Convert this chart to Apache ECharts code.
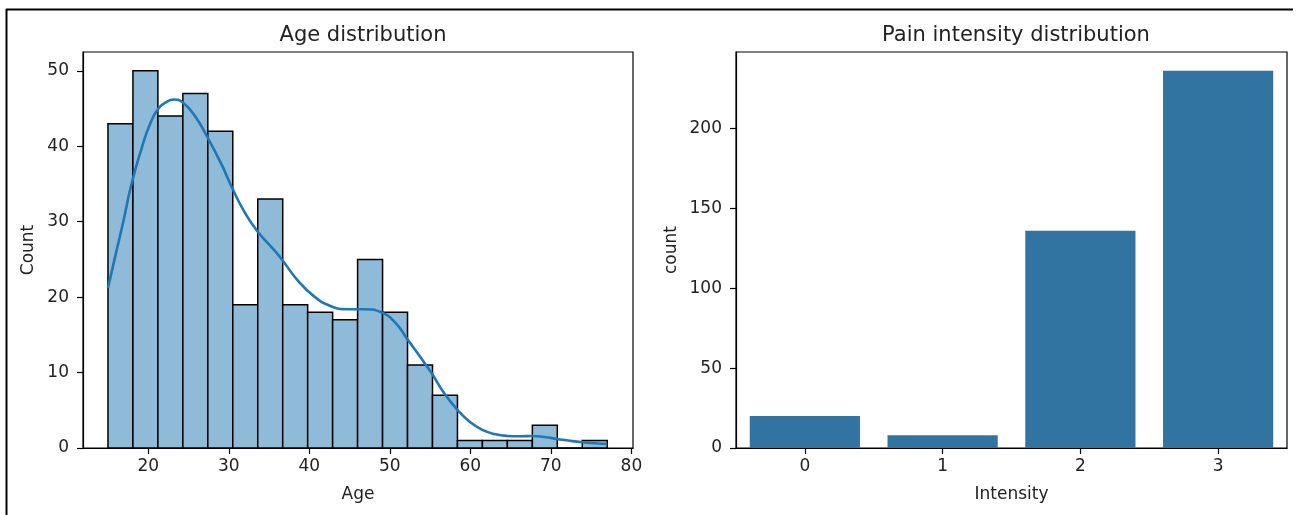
<!DOCTYPE html>
<html>
<head>
<meta charset="utf-8">
<script src="https://cdn.jsdelivr.net/npm/echarts@6/dist/echarts.min.js"></script>
<style>
html,body{margin:0;padding:0;background:#fff;}
#chart{width:1297px;height:515px;}
</style>
</head>
<body>
<div id="chart"></div>
<script>
// ---- data ----
const binEdges = [15, 18.1, 21.2, 24.3, 27.4, 30.5, 33.6, 36.7, 39.8, 42.9, 46, 49.1, 52.2, 55.3, 58.4, 61.5, 64.6, 67.7, 70.8, 73.9, 77];
const binCounts = [43, 50, 44, 47, 42, 19, 33, 19, 18, 17, 25, 18, 11, 7, 1, 1, 1, 3, 0, 1];
const kdeAge = [15, 15.9, 16.9, 17.9, 19.2, 20.2, 21.2, 22.3, 23.2, 24.3, 25.8, 27.4, 29.1, 30.5, 32.0, 33.5, 35.5, 36.6, 38.5, 40.6, 42.7, 44.7, 46.8, 48.9, 50.7, 52.2, 53.7, 55.2, 56.8, 58.4, 60.0, 61.5, 63.0, 64.6, 66.1, 67.6, 69.2, 70.8, 72.4, 73.9, 75.5, 77.0];
const kdeCount = [21.2, 25.4, 30.0, 34.9, 39.8, 42.9, 44.9, 45.9, 46.2, 45.8, 44.0, 41.1, 37.6, 34.3, 31.2, 28.8, 26.4, 25.0, 22.3, 20.1, 18.8, 18.4, 18.4, 18.0, 16.6, 14.4, 12.2, 9.9, 7.2, 5.05, 3.4, 2.4, 1.85, 1.6, 1.55, 1.6, 1.45, 1.2, 0.95, 0.76, 0.62, 0.53];
const ageTicks = [20, 30, 40, 50, 60, 70, 80];
const countTicks = [0, 10, 20, 30, 40, 50];
const painCategories = ['0', '1', '2', '3'];
const painCounts = [20, 8, 136, 236];
const painTicks = [0, 50, 100, 150, 200];

const FONT = 'DejaVu Sans';
const histData = binCounts.map((c, i) => [binEdges[i], binEdges[i + 1], c]);
const kdeData = kdeAge.map((a, i) => [a, kdeCount[i]]);

const axisLineStyle = { show: true, lineStyle: { color: '#000', width: 1.2 } };
const tickStyle = { show: true, length: 6, inside: false, lineStyle: { color: '#000', width: 1.2 } };
const labelBase = { color: '#222', fontFamily: FONT, fontSize: 17 };
const nameStyle = { color: '#222', fontFamily: FONT, fontSize: 17 };

const chart = echarts.init(document.getElementById('chart'), null, { renderer: 'canvas' });
const option = {
  animation: false,
  backgroundColor: '#fff',
  title: [
    { text: 'Age distribution', left: 358, top: 20, textAlign: 'center',
      textStyle: { fontFamily: FONT, fontSize: 21, fontWeight: 'normal', color: '#222' } },
    { text: 'Pain intensity distribution', left: 1011, top: 20, textAlign: 'center',
      textStyle: { fontFamily: FONT, fontSize: 21, fontWeight: 'normal', color: '#222' } }
  ],
  grid: [
    { left: 83, right: 664, top: 52, bottom: 67, show: true, borderColor: '#000', borderWidth: 1.2, outerBoundsMode: 'none', containLabel: false },
    { left: 736, right: 10, top: 52, bottom: 67, show: true, borderColor: '#000', borderWidth: 1.2, outerBoundsMode: 'none', containLabel: false }
  ],
  xAxis: [
    { type: 'value', gridIndex: 0, min: 11.9, max: 80.2,
      name: 'Age', nameLocation: 'middle', nameGap: 38, nameTextStyle: nameStyle,
      axisLine: axisLineStyle, axisTick: Object.assign({}, tickStyle, { customValues: ageTicks }),
      axisLabel: Object.assign({}, labelBase, { customValues: ageTicks, margin: 10 }),
      splitLine: { show: false } },
    { type: 'category', gridIndex: 1, data: painCategories,
      name: 'Intensity', nameLocation: 'middle', nameGap: 38, nameTextStyle: nameStyle,
      axisLine: axisLineStyle, axisTick: Object.assign({}, tickStyle, { alignWithLabel: true }),
      axisLabel: Object.assign({}, labelBase, { margin: 10 }),
      splitLine: { show: false } }
  ],
  yAxis: [
    { type: 'value', gridIndex: 0, min: 0, max: 52.5,
      name: 'Count', nameLocation: 'middle', nameGap: 46, nameRotate: 90, nameTextStyle: nameStyle,
      axisLine: axisLineStyle, axisTick: Object.assign({}, tickStyle, { customValues: countTicks }),
      axisLabel: Object.assign({}, labelBase, { customValues: countTicks, margin: 14 }),
      splitLine: { show: false } },
    { type: 'value', gridIndex: 1, min: 0, max: 247.8,
      name: 'count', nameLocation: 'middle', nameGap: 56, nameRotate: 90, nameTextStyle: nameStyle,
      axisLine: axisLineStyle, axisTick: Object.assign({}, tickStyle, { customValues: painTicks }),
      axisLabel: Object.assign({}, labelBase, { customValues: painTicks, margin: 14 }),
      splitLine: { show: false } }
  ],
  series: [
    { type: 'custom', xAxisIndex: 0, yAxisIndex: 0, z: 2, data: histData,
      encode: { x: [0, 1], y: 2 },
      renderItem: function (params, api) {
        const p0 = api.coord([api.value(0), api.value(2)]);
        const p1 = api.coord([api.value(1), 0]);
        return { type: 'rect',
          shape: { x: p0[0], y: p0[1], width: p1[0] - p0[0], height: p1[1] - p0[1] },
          style: { fill: '#8fbbd9', stroke: '#000', lineWidth: 1.5 } };
      } },
    { type: 'line', xAxisIndex: 0, yAxisIndex: 0, z: 3, data: kdeData,
      smooth: 0.5, showSymbol: false, symbol: 'none',
      lineStyle: { color: '#1f77b4', width: 2.6 } },
    { type: 'bar', xAxisIndex: 1, yAxisIndex: 1, data: painCounts, barWidth: '80%',
      itemStyle: { color: '#3274a1' } }
  ],
  graphic: [
    { type: 'line', shape: { x1: 6, y1: 9.5, x2: 1293, y2: 9.5 }, style: { stroke: '#000', lineWidth: 2 }, z: 100 },
    { type: 'line', shape: { x1: 6.5, y1: 9, x2: 6.5, y2: 515 }, style: { stroke: '#000', lineWidth: 2 }, z: 100 }
  ]
};
chart.setOption(option);
</script>
</body>
</html>
